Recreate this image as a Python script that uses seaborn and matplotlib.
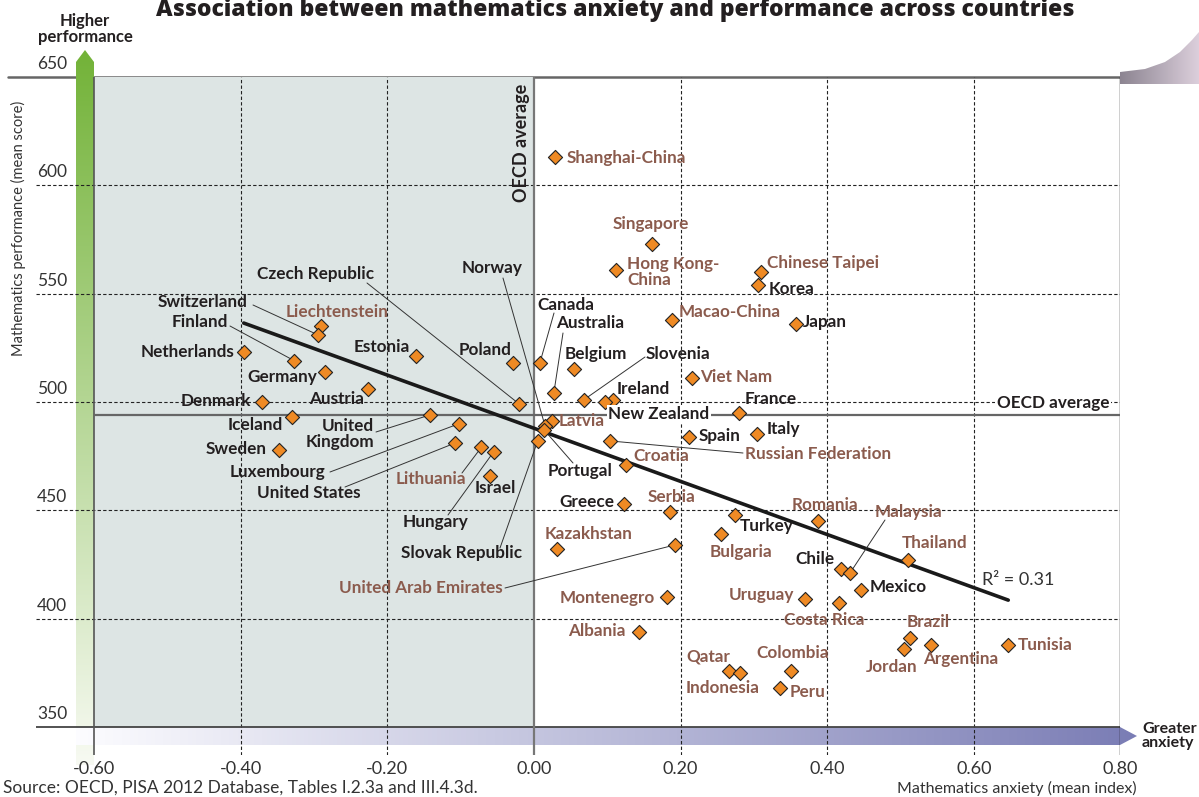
import numpy as np
import pandas as pd
import matplotlib
matplotlib.use('Agg')
import matplotlib.pyplot as plt
import seaborn as sns
from matplotlib.patches import Polygon

# Values
countries = ['Shanghai-China', 'Singapore', 'Hong Kong-China', 'Chinese Taipei', 'Korea',
             'Macao-China', 'Japan', 'Liechtenstein', 'Switzerland', 'Netherlands',
             'Estonia', 'Finland', 'Canada', 'Poland', 'Belgium', 'Germany', 'Viet Nam',
             'Austria', 'Australia', 'Ireland', 'Slovenia', 'Denmark', 'New Zealand',
             'Czech Republic', 'France', 'United Kingdom', 'Iceland', 'Latvia',
             'Luxembourg', 'Norway', 'Portugal', 'Italy', 'Spain', 'Russian Federation',
             'Slovak Republic', 'United States', 'Lithuania', 'Sweden', 'Hungary',
             'Croatia', 'Israel', 'Greece', 'Serbia', 'Turkey', 'Romania', 'Bulgaria',
             'United Arab Emirates', 'Kazakhstan', 'Thailand', 'Chile', 'Malaysia',
             'Mexico', 'Montenegro', 'Uruguay', 'Costa Rica', 'Albania', 'Brazil',
             'Argentina', 'Tunisia', 'Jordan', 'Colombia', 'Qatar', 'Indonesia', 'Peru']
anxiety = [0.029, 0.161, 0.112, 0.310, 0.306,
           0.188, 0.357, -0.291, -0.295, -0.396,
           -0.161, -0.327, 0.008, -0.029, 0.055, -0.285, 0.215,
           -0.226, 0.027, 0.108, 0.068, -0.371, 0.097,
           -0.020, 0.280, -0.142, -0.330, 0.024,
           -0.102, 0.015, 0.014, 0.304, 0.212, 0.104,
           0.005, -0.108, -0.072, -0.348, -0.055,
           0.125, -0.060, 0.123, 0.186, 0.274, 0.387, 0.255,
           0.192, 0.031, 0.510, 0.419, 0.431,
           0.446, 0.181, 0.370, 0.416, 0.143, 0.513,
           0.542, 0.647, 0.505, 0.351, 0.266, 0.281, 0.336]
math_score = [613, 573, 561, 560, 554,
              538, 536, 535, 531, 523,
              521, 519, 518, 518, 515, 514, 511,
              506, 504, 501, 501, 500, 500,
              499, 495, 494, 493, 491,
              490, 489, 487, 485, 484, 482,
              482, 481, 479, 478, 477,
              471, 466, 453, 449, 448, 445, 439,
              434, 432, 427, 423, 421,
              413, 410, 409, 407, 394, 391,
              388, 388, 386, 376, 376, 375, 368]
partners = ['Shanghai-China', 'Singapore', 'Hong Kong-China', 'Chinese Taipei', 'Macao-China',
            'Liechtenstein', 'Viet Nam', 'Latvia', 'Russian Federation', 'Lithuania',
            'Croatia', 'Serbia', 'Romania', 'Bulgaria', 'United Arab Emirates', 'Kazakhstan',
            'Thailand', 'Malaysia', 'Montenegro', 'Uruguay', 'Costa Rica', 'Albania',
            'Brazil', 'Argentina', 'Tunisia', 'Jordan', 'Colombia', 'Qatar', 'Indonesia', 'Peru']

oecd_anxiety = 0.0
oecd_math = 494
r_squared = 0.31
x_ticks = [-0.6, -0.4, -0.2, 0.0, 0.2, 0.4, 0.6, 0.8]
y_ticks = [350, 400, 450, 500, 550, 600, 650]

df = pd.DataFrame({'country': countries, 'anxiety': anxiety, 'math': math_score})
df['partner'] = df['country'].isin(partners)

# label placement in image pixels: (x, y, ha, leader start or None, text)
label_layout = {
    'Shanghai-China': (567, 158, 'left', None, None),
    'Singapore': (651, 224, 'center', None, None),
    'Hong Kong-China': (627, 272, 'left', None, 'Hong Kong-\nChina'),
    'Chinese Taipei': (767, 263, 'left', None, None),
    'Korea': (769, 289, 'left', None, None),
    'Macao-China': (679, 312, 'left', None, None),
    'Japan': (803, 322, 'left', None, None),
    'Liechtenstein': (337, 312, 'center', None, None),
    'Switzerland': (248, 302, 'right', (253, 305), None),
    'Netherlands': (235, 352, 'right', None, None),
    'Estonia': (382, 347, 'center', None, None),
    'Finland': (228, 322, 'right', (230, 326), None),
    'Canada': (566, 305, 'center', (554, 313), None),
    'Poland': (485, 350, 'center', None, None),
    'Belgium': (596, 354, 'center', None, None),
    'Germany': (282, 377, 'center', None, None),
    'Viet Nam': (700, 377, 'left', None, None),
    'Austria': (337, 399, 'center', None, None),
    'Australia': (590, 323, 'center', (563, 333), None),
    'Ireland': (617, 389, 'left', None, None),
    'Slovenia': (646, 354, 'left', (645, 357), None),
    'Denmark': (251, 401, 'right', None, None),
    'New Zealand': (659, 414, 'center', None, None),
    'Czech Republic': (316, 274, 'center', (367, 283), None),
    'France': (745, 399, 'left', None, None),
    'United Kingdom': (374, 434, 'right', (376, 432), 'United\nKingdom'),
    'Iceland': (283, 425, 'right', None, None),
    'Latvia': (559, 421, 'left', None, None),
    'Luxembourg': (278, 472, 'center', (330, 472), None),
    'Norway': (492, 268, 'center', (503, 278), None),
    'Portugal': (580, 471, 'center', (573, 463), None),
    'Italy': (767, 429, 'left', None, None),
    'Spain': (699, 436, 'left', None, None),
    'Russian Federation': (745, 454, 'left', (743, 453), None),
    'Slovak Republic': (462, 553, 'center', (500, 548), None),
    'United States': (309, 493, 'center', (345, 487), None),
    'Lithuania': (431, 479, 'center', (462, 473), None),
    'Sweden': (267, 449, 'right', None, None),
    'Hungary': (436, 522, 'center', (448, 515), None),
    'Croatia': (633, 456, 'left', None, None),
    'Israel': (495, 488, 'center', None, None),
    'Greece': (614, 502, 'right', None, None),
    'Serbia': (672, 497, 'center', None, None),
    'Turkey': (740, 526, 'left', None, None),
    'Romania': (825, 505, 'center', None, None),
    'Bulgaria': (741, 552, 'center', None, None),
    'United Arab Emirates': (421, 588, 'center', (505, 588), None),
    'Kazakhstan': (589, 534, 'center', None, None),
    'Thailand': (935, 543, 'center', None, None),
    'Chile': (835, 559, 'right', None, None),
    'Malaysia': (909, 512, 'center', (885, 520), None),
    'Mexico': (870, 587, 'left', None, None),
    'Montenegro': (655, 598, 'right', None, None),
    'Uruguay': (794, 595, 'right', None, None),
    'Costa Rica': (824, 620, 'center', None, None),
    'Albania': (626, 631, 'right', None, None),
    'Brazil': (928, 622, 'center', None, None),
    'Argentina': (961, 659, 'center', None, None),
    'Tunisia': (1018, 645, 'left', None, None),
    'Jordan': (892, 667, 'center', None, None),
    'Colombia': (793, 653, 'center', None, None),
    'Qatar': (708, 656, 'center', None, None),
    'Indonesia': (723, 688, 'center', None, None),
    'Peru': (790, 692, 'left', None, None),
}

sns.set_style('white')
plt.rcParams['font.family'] = ['Lato', 'DejaVu Sans']

W, H = 1199, 797
X0, XS, Y350, YS = 534, 733, 727, 2.167   # pixel mapping of the data axes


def p2d(px, py):
    return (px - X0) / XS, 350 + (Y350 - py) / YS


DARK = '#231f20'
BROWN = '#8b5b4d'
LABEL_SIZE = 12.3

fig = plt.figure(figsize=(W / 100, H / 100), dpi=100)

# background layer in pixel coordinates for arrows and decoration
ax0 = fig.add_axes([0, 0, 1, 1], zorder=0)
ax0.set_xlim(0, W)
ax0.set_ylim(H, 0)
ax0.axis('off')

ax0.plot([8, 1120], [77, 77], color='#666666', lw=1.8, zorder=1)

# green "higher performance" arrow
green = np.linspace([0.45, 0.70, 0.22], [0.97, 0.98, 0.95], 256)
im = ax0.imshow(green[:, None, :], extent=[76, 94, 765, 50], aspect='auto', zorder=2)
gpoly = Polygon([(76, 765), (76, 62), (85, 50), (94, 62), (94, 765)], closed=True,
                transform=ax0.transData)
im.set_clip_path(gpoly)

# purple "greater anxiety" arrow
purple = np.linspace([0.99, 0.99, 1.0], [0.48, 0.49, 0.71], 256)
im2 = ax0.imshow(purple[None, :, :], extent=[76, 1137, 745, 727], aspect='auto', zorder=2)
ppoly = Polygon([(76, 727), (1120, 727), (1137, 736), (1120, 745), (76, 745)], closed=True,
                transform=ax0.transData)
im2.set_clip_path(ppoly)

# page curl at top right
curl = np.linspace([0.55, 0.52, 0.57], [0.86, 0.81, 0.86], 64)
im3 = ax0.imshow(curl[None, :, :], extent=[1120, 1199, 84, 30], aspect='auto', zorder=2)
cpoly = Polygon([(1120, 84), (1199, 84), (1199, 32), (1192, 40), (1180, 52), (1165, 62),
                 (1145, 69), (1120, 72)], closed=True, transform=ax0.transData)
im3.set_clip_path(cpoly)
ax0.set_xlim(0, W)
ax0.set_ylim(H, 0)

# main data axes
xlim = (-0.68, 0.80)
ylim = (350 - 28 / YS, 650)
left_px = X0 + xlim[0] * XS
right_px = X0 + xlim[1] * XS
top_px = Y350 - (ylim[1] - 350) * YS
bottom_px = Y350 - (ylim[0] - 350) * YS
ax = fig.add_axes([left_px / W, 1 - bottom_px / H, (right_px - left_px) / W,
                   (bottom_px - top_px) / H], zorder=1)
ax.set_facecolor('none')
ax.set_xlim(*xlim)
ax.set_ylim(*ylim)
for s in ax.spines.values():
    s.set_visible(False)

# shaded area: below-average anxiety
ax.fill_between([x_ticks[0], oecd_anxiety], 350, 650, color='#dde5e4', lw=0, zorder=0.5)

# grid
dash = dict(color='#222222', lw=0.8, linestyles=(0, (3, 2)), zorder=1)
ax.hlines(y_ticks[1:-1], xlim[0], x_ticks[-1], **dash)
ax.vlines([t for t in x_ticks[1:-1] if t != 0.0], ylim[0], 650, **dash)
ax.hlines(350, xlim[0], x_ticks[-1], color='#444444', lw=1.3, zorder=1.2)
ax.vlines(x_ticks[0], ylim[0], 650, color='#555555', lw=1.2, zorder=1.2)
ax.vlines(x_ticks[-1], ylim[0], 650, color='#111111', lw=1.0, zorder=1.2)

# OECD averages
ax.vlines(oecd_anxiety, ylim[0], 650, color='#777777', lw=1.6, zorder=1.5)
ax.hlines(oecd_math, x_ticks[0], x_ticks[-1], color='#666666', lw=1.6, zorder=1.5)
ax.text(*p2d(522, 143), 'OECD average', rotation=90, ha='center', va='center',
        fontsize=13, fontweight='bold', color=DARK, zorder=6)
ax.text(*p2d(1053, 403), 'OECD average', ha='center', va='center', fontsize=LABEL_SIZE,
        fontweight='bold', color=DARK, zorder=6,
        bbox=dict(facecolor='white', edgecolor='none', pad=1))

# regression line
sns.regplot(data=df, x='anxiety', y='math', scatter=False, ci=None, truncate=True,
            line_kws=dict(color='#1a1a1a', lw=2.6, zorder=3), ax=ax)
ax.text(*p2d(982, 580), f'R² = {r_squared:.2f}', ha='left', va='center', fontsize=13,
        color='#333333', zorder=6)

# markers
sns.scatterplot(data=df, x='anxiety', y='math', marker='D', s=52, color='#ef8a24',
                edgecolor='#222222', linewidth=0.8, zorder=5, ax=ax, legend=False)

# country labels and leaders
for _, row in df.iterrows():
    px, py, ha, lead, txt = label_layout[row['country']]
    tx, ty = p2d(px, py)
    color = BROWN if row['partner'] else DARK
    kw = {}
    if row['country'] == 'New Zealand':
        kw['bbox'] = dict(facecolor='white', edgecolor='none', pad=1)
    ax.text(tx, ty, txt or row['country'], ha=ha, va='center', multialignment=ha,
            fontsize=LABEL_SIZE, fontweight='bold', color=color, zorder=6,
            linespacing=1.05, **kw)
    if lead is not None:
        sx, sy = p2d(*lead)
        ax.plot([sx, row['anxiety']], [sy, row['math']], color='#333333', lw=0.7, zorder=4)

# ticks
ax.set_xticks(x_ticks)
ax.set_xticklabels([f'{t:.2f}' for t in x_ticks], fontsize=13, color='#333333')
ax.tick_params(axis='x', length=0, pad=4)
ax.set_yticks([])
ax.set_xlabel('')
ax.set_ylabel('')
for v in y_ticks:
    ax.text(p2d(37, 0)[0], v + 6, str(v), ha='left', va='center', fontsize=12.5,
            color='#333333')

# titles and axis texts
fig.text(615 / W, 1 - 10 / H,
         'Association between mathematics anxiety and performance across countries',
         ha='center', va='center', fontsize=16.5, fontweight='heavy', color=DARK,
         family=['Open Sans', 'DejaVu Sans'])
fig.text(85 / W, 1 - 29 / H, 'Higher\nperformance', ha='center', va='center',
         fontsize=12, fontweight='bold', color=DARK, linespacing=1.05)
fig.text(1142 / W, 1 - 736 / H, 'Greater\nanxiety', ha='left', va='center',
         fontsize=11.5, fontweight='bold', color=DARK, linespacing=1.05)
fig.text(18 / W, 1 - 228 / H, 'Mathematics performance (mean score)', rotation=90,
         ha='center', va='center', fontsize=10.5, color='#333333')
fig.text(1017 / W, 1 - 788 / H, 'Mathematics anxiety (mean index)', ha='center',
         va='center', fontsize=11.5, color='#333333')
fig.text(3 / W, 1 - 788 / H, 'Source: OECD, PISA 2012 Database, Tables I.2.3a and III.4.3d.',
         ha='left', va='center', fontsize=12.5, color='#333333')

fig.savefig('out.png', dpi=100)
